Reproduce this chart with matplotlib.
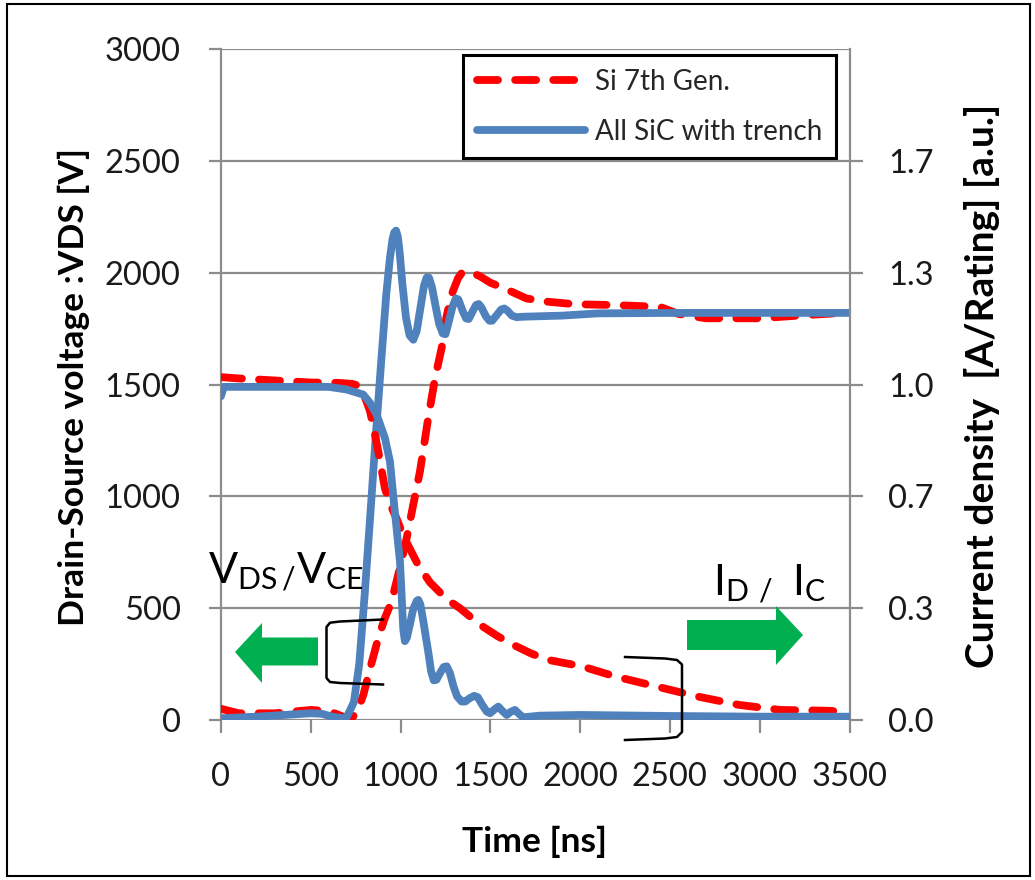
import matplotlib
matplotlib.use('Agg')
import numpy as np
import matplotlib.pyplot as plt
from matplotlib.patches import Polygon, Rectangle
from matplotlib.lines import Line2D

plt.rcParams['font.family'] = ['Lato', 'DejaVu Sans']
plt.rcParams['mathtext.fontset'] = 'custom'
plt.rcParams['mathtext.rm'] = 'Lato'

# ---- data ----
# drain-source voltage [V]
t_si_v = [0, 100, 300, 500, 600, 680, 730, 760, 793, 830, 876, 910, 950, 990, 1034, 1070,
          1108, 1154, 1192, 1229, 1255, 1284, 1320, 1340, 1359, 1385, 1410, 1442, 1500,
          1591, 1700, 1795, 1967, 2200, 2444, 2550, 2700, 3000, 3250, 3500]
v_si = [50, 30, 30, 45, 40, 15, 10, 40, 113, 230, 366, 450, 530, 660, 813, 960,
        1112, 1350, 1529, 1664, 1800, 1902, 1975, 1998, 2007, 2004, 1995, 1984, 1955,
        1925, 1885, 1872, 1859, 1855, 1847, 1815, 1796, 1796, 1810, 1822]

t_sic_v = [0, 200, 400, 500, 560, 620, 680, 700, 740, 770, 800, 830, 860, 890, 920, 940,
           955, 965, 975, 985, 995, 1010, 1030, 1050, 1071, 1090, 1110, 1130, 1145, 1158,
           1175, 1195, 1215, 1235, 1250, 1265, 1290, 1308, 1322, 1345, 1365, 1380, 1400,
           1420, 1435, 1450, 1475, 1495, 1510, 1530, 1560, 1578, 1595, 1620, 1646, 1680,
           1900, 2100, 2500, 3500]
v_sic = [8, 15, 25, 30, 28, 15, 8, 12, 80, 250, 560, 900, 1250, 1580, 1900, 2060,
         2150, 2180, 2188, 2160, 2090, 1950, 1800, 1720, 1700, 1740, 1840, 1940, 1978, 1978,
         1935, 1850, 1770, 1728, 1725, 1770, 1850, 1885, 1880, 1830, 1795, 1793, 1825,
         1855, 1860, 1845, 1805, 1785, 1785, 1805, 1835, 1840, 1830, 1808, 1801, 1803,
         1808, 1818, 1820, 1820]

# current density [A/Rating]
t_si_i = [0, 100, 300, 500, 650, 730, 774, 810, 830, 850, 876, 913, 945, 978, 1015, 1052,
          1100, 1164, 1257, 1331, 1442, 1540, 1628, 1720, 1813, 2009, 2194, 2424, 2654,
          2885, 3115, 3346, 3500]
i_si = [1.022, 1.018, 1.012, 1.006, 1.005, 1.002, 0.995, 0.95, 0.92, 0.87, 0.80, 0.69,
        0.64, 0.60, 0.55, 0.51, 0.46, 0.41, 0.36, 0.333, 0.284, 0.25, 0.224, 0.20, 0.18,
        0.16, 0.13, 0.10, 0.07, 0.045, 0.03, 0.028, 0.025]

t_sic_i = [0, 15, 600, 700, 792, 830, 867, 913, 941, 959, 978, 997, 1006, 1015, 1024,
           1035, 1050, 1070, 1090, 1099, 1110, 1125, 1140, 1155, 1170, 1185, 1200, 1220,
           1240, 1257, 1275, 1295, 1315, 1340, 1360, 1385, 1410, 1430, 1455, 1480, 1498,
           1520, 1544, 1565, 1591, 1615, 1637, 1660, 1683, 1776, 2000, 2500, 3000, 3500]
i_sic = [0.965, 0.993, 0.993, 0.985, 0.97, 0.945, 0.91, 0.84, 0.77, 0.67, 0.57, 0.47,
         0.37, 0.27, 0.235, 0.245, 0.28, 0.33, 0.355, 0.358, 0.345, 0.30, 0.25, 0.20,
         0.145, 0.118, 0.12, 0.14, 0.158, 0.16, 0.14, 0.10, 0.07, 0.055, 0.055, 0.065,
         0.072, 0.068, 0.045, 0.025, 0.02, 0.03, 0.04, 0.028, 0.015, 0.025, 0.03, 0.018,
         0.008, 0.013, 0.015, 0.012, 0.01, 0.01]

labels = ['Si 7th Gen.', 'All SiC with trench']
x_ticks = [0, 500, 1000, 1500, 2000, 2500, 3000, 3500]
v_ticks = [0, 500, 1000, 1500, 2000, 2500, 3000]
i_ticks = [0, 1/3, 2/3, 1.0, 4/3, 5/3]

RED = '#FF0000'
BLUE = '#4F81BD'
GREEN = '#00B050'
GRID = '#8C8C8C'
W, H = 1035, 880

fig = plt.figure(figsize=(W/100, H/100), dpi=100)
ax = fig.add_axes([221/W, 1-720/H, (849.5-221)/W, (720-49)/H])
ax2 = ax.twinx()

lw = 5.6
ax.plot(t_si_v, v_si, color=RED, lw=lw, dashes=(2.7, 2.2), dash_capstyle='round',
        zorder=3)
ax.plot(t_sic_v, v_sic, color=BLUE, lw=lw, solid_capstyle='round',
        solid_joinstyle='round', zorder=4)
l1, = ax2.plot(t_si_i, i_si, color=RED, lw=lw, dashes=(2.7, 2.2), dash_capstyle='round',
               zorder=3, label=labels[0])
l2, = ax2.plot(t_sic_i, i_sic, color=BLUE, lw=lw, solid_capstyle='round',
               solid_joinstyle='round', zorder=4, label=labels[1])

ax.set_xlim(0, 3500)
ax.set_ylim(0, 3000)
ax2.set_ylim(0, 2.0)
ax.set_xticks(x_ticks)
ax.set_yticks(v_ticks)
ax2.set_yticks(i_ticks)
ax2.set_yticklabels(['%.1f' % v for v in i_ticks])

ax.grid(axis='y', color=GRID, lw=1.6)
ax.set_axisbelow(True)
for a in (ax, ax2):
    for s in a.spines.values():
        s.set_visible(False)
ax.spines['left'].set_visible(True)
ax.spines['left'].set_color(GRID)
ax.spines['left'].set_linewidth(1.6)
ax2.spines['right'].set_visible(True)
ax2.spines['right'].set_color(GRID)
ax2.spines['right'].set_linewidth(1.6)

ax.tick_params(axis='x', direction='out', length=9, width=1.6, color=GRID,
               labelsize=23.5, pad=21, labelcolor='#1a1a1a')
ax.tick_params(axis='y', direction='out', length=9, width=1.6, color=GRID,
               labelsize=23.5, pad=20, labelcolor='#1a1a1a')
ax2.tick_params(axis='y', direction='out', length=9, width=1.6, color=GRID,
                labelsize=23.5, pad=19, labelcolor='#1a1a1a')

fig.text(74/W, 1-387/H, 'Drain-Source voltage :VDS [V]', rotation=90, ha='center',
         va='center', fontsize=25.5, fontweight='bold')
fig.text(982/W, 1-386/H, 'Current density  [A/Rating] [a.u.]', rotation=90,
         ha='center', va='center', fontsize=28, fontweight='bold')
fig.text(535/W, 1-842/H, 'Time [ns]', ha='center', va='center', fontsize=25.5,
         fontweight='bold')

leg = ax2.legend(handles=[l1, l2], loc='upper left', bbox_to_anchor=(0.385, 0.991),
                 fontsize=20, frameon=True, fancybox=False, framealpha=1,
                 handlelength=3.9, handletextpad=0.35, labelspacing=0.85,
                 borderpad=0.5, borderaxespad=0)
leg.get_frame().set_edgecolor('black')
leg.get_frame().set_linewidth(2.2)
for t in leg.get_texts():
    t.set_color('#262626')

# annotation text
fig.text(208/W, 1-583/H, r'$\mathregular{V_{DS\,/}V_{CE}}$', fontsize=31,
         va='baseline', ha='left')
fig.text(713/W, 1-595/H, r'$\mathregular{I_{D\ /\ \ }I_{C}}$', fontsize=31,
         va='baseline', ha='left')


def px(pts):
    return [(x/W, 1-y/H) for x, y in pts]


# green arrows
left_arrow = [(235, 652), (262, 623), (262, 637.5), (318, 637.5), (318, 665.5),
              (262, 665.5), (262, 683)]
right_arrow = [(803, 635), (776, 606), (776, 620), (687, 620), (687, 650),
               (776, 650), (776, 665)]
for shape in (left_arrow, right_arrow):
    fig.patches.append(Polygon(px(shape), closed=True, facecolor=GREEN,
                               edgecolor='none', transform=fig.transFigure, zorder=5))

# brackets
br_left = [(383, 619.5), (340, 621.5), (330, 622.7), (326.5, 627), (326.5, 678),
           (330, 682), (340, 683), (383, 684.5)]
br_right = [(625, 657), (665, 658.5), (677, 660), (682, 664.5), (682, 732),
            (677, 737), (665, 738.5), (625, 740)]
for shape in (br_left, br_right):
    xs, ys = zip(*px(shape))
    fig.lines.append(Line2D(xs, ys, color='black', lw=1.8, transform=fig.transFigure,
                            zorder=6))

# outer frame
fig.patches.append(Rectangle((7/W, 1-876/H), (1030-7)/W, (876-4)/H, fill=False,
                             edgecolor='black', lw=1.5, transform=fig.transFigure))

fig.savefig('out.png', dpi=100)
